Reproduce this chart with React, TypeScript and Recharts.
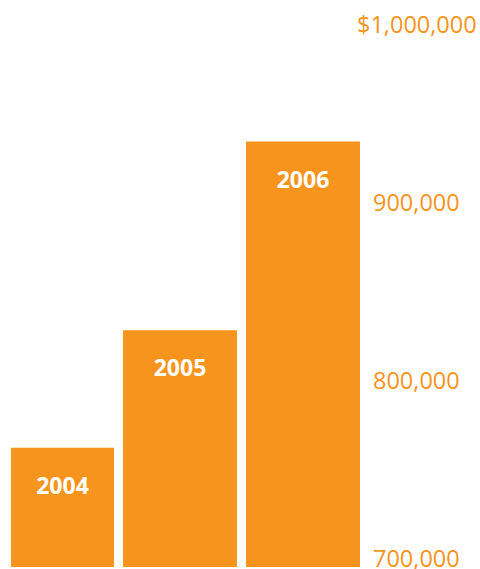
import React from "react";
import { BarChart, Bar, XAxis, YAxis, LabelList, Rectangle } from "recharts";

const years = ["2004", "2005", "2006"];
const revenue = [767000, 833000, 939000];
const tickValues = [700000, 800000, 900000, 1000000];

const data = years.map((year, i) => ({ year, revenue: revenue[i] }));

const ORANGE = "#F7941D";
const PLOT_LEFT = 11;
const FONT = "'Open Sans', 'Noto Sans', sans-serif";

const formatTick = (v: number) =>
  (v === 1000000 ? "$" : "") + v.toLocaleString("en-US");

const RightTick = (props: any) => {
  const { x, y, payload } = props;
  const isTop = payload.value === 1000000;
  return (
    <text
      x={isTop ? x - 16 : x}
      y={y}
      textAnchor="start"
      fill={ORANGE}
      fontSize={23.5}
      fontFamily={FONT}
    >
      {formatTick(payload.value)}
    </text>
  );
};

// bars are clipped at the left edge of the plot area
const ClippedBar = (props: any) => {
  const { x, y, width, height, fill } = props;
  const left = Math.max(x, PLOT_LEFT);
  return <Rectangle x={left} y={y} width={x + width - left} height={height} fill={fill} />;
};

const YearLabel = (props: any) => {
  const { x, y, width, value } = props;
  const left = Math.max(x, PLOT_LEFT);
  const cx = (left + x + width) / 2;
  return (
    <text
      x={cx}
      y={y + 46}
      textAnchor="middle"
      fill="#ffffff"
      fontSize={23}
      fontWeight={700}
      fontFamily={FONT}
    >
      {value}
    </text>
  );
};

export default function App() {
  return (
    <div style={{ position: "absolute", left: 0, top: 0 }}>
      <BarChart
        width={480}
        height={569}
        data={data}
        margin={{ top: 33, right: 0, bottom: 2, left: PLOT_LEFT }}
        barCategoryGap={4.5}
      >
        <XAxis dataKey="year" hide padding={{ left: -15.5, right: 0 }} />
        <YAxis
          orientation="right"
          width={115.5}
          domain={[700000, 1000000]}
          ticks={tickValues}
          allowDataOverflow
          axisLine={false}
          tickLine={false}
          tickSize={0}
          tickMargin={8.5}
          tick={<RightTick />}
          interval={0}
        />
        <Bar dataKey="revenue" fill={ORANGE} isAnimationActive={false} shape={<ClippedBar />}>
          <LabelList dataKey="year" content={<YearLabel />} />
        </Bar>
      </BarChart>
    </div>
  );
}
